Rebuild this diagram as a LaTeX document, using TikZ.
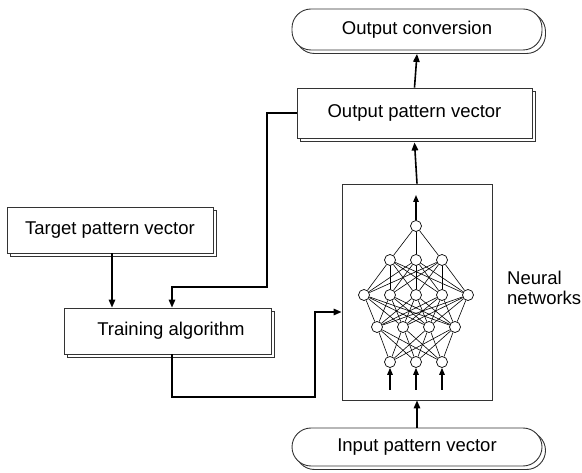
\documentclass[tikz,border=0pt]{standalone}
\usepackage{fontspec}
\setmainfont{Liberation Sans}
\usetikzlibrary{arrows.meta,shadows}
\begin{document}
\begin{tikzpicture}[x=1pt,y=-1pt,
  lbl/.style={font=\fontsize{18.5}{20}\selectfont},
  box/.style={lbl, draw=black!80, line width=0.9pt, fill=white, inner sep=0pt,
    copy shadow={shadow xshift=3.5pt, shadow yshift=-3.5pt}},
  pill/.style={box, rounded corners=19pt},
  frame/.style={draw=black!80, line width=0.9pt, inner sep=0pt},
  conn/.style={line width=1.6pt, -{Triangle[length=8pt,width=6.5pt]}},
  smallconn/.style={line width=1.4pt, -{Triangle[length=7pt,width=5.5pt]}},
  neuron/.style={circle, draw, line width=0.7pt, fill=white, minimum size=11pt, inner sep=0pt},
  syn/.style={line width=0.6pt},
  sidelabel/.style={lbl, anchor=base west, inner sep=0pt}]
\useasboundingbox (0,0) rectangle (582,473);

% main boxes
\node[pill, minimum width=250pt, minimum height=41pt] (oc) at (417,29.5) {Output conversion};
\node[box, minimum width=235pt, minimum height=50pt] (opv) at (414.5,113) {Output pattern vector};
\node[box, minimum width=206pt, minimum height=46pt] (tp) at (110,230) {Target pattern vector};
\node[box, minimum width=207pt, minimum height=46pt] (ta) at (167.5,331) {\hspace*{7pt}Training algorithm};
\node[pill, minimum width=250pt, minimum height=38pt] (ipv) at (417,447) {Input pattern vector};
\node[frame, minimum width=150pt, minimum height=216pt] (nn) at (417,292) {};

\node[sidelabel] (nl1) at (507,285) {Neural};
\node[sidelabel] (nl2) at (507,305) {networks};

% network
\node[neuron] (n1) at (416,226) {};
\foreach \i/\x in {1/390,2/416,3/442} \node[neuron] (n2\i) at (\x,260) {};
\foreach \i/\x in {1/364,2/390,3/416,4/442,5/468} \node[neuron] (n3\i) at (\x,295) {};
\foreach \i/\x in {1/377,2/403,3/429,4/455} \node[neuron] (n4\i) at (\x,327) {};
\foreach \i/\x in {1/390,2/416,3/442} \node[neuron] (n5\i) at (\x,362) {};

\foreach \a in {1,2,3} \draw[syn] (n1) -- (n2\a);
\foreach \a in {1,2,3} \foreach \b in {1,...,5} \draw[syn] (n2\a) -- (n3\b);
\foreach \a in {1,...,5} \foreach \b in {1,...,4} \draw[syn] (n3\a) -- (n4\b);
\foreach \a in {1,...,4} \foreach \b in {1,2,3} \draw[syn] (n4\a) -- (n5\b);

\coordinate (outtip) at (416,195);
\draw[smallconn] (n1.north) -- (outtip);
\foreach \i/\x in {1/390,2/416,3/442} {
  \coordinate (in\i) at (\x,390);
  \draw[smallconn] (in\i) -- (n5\i.south);
}

% connectors
\draw[conn] (opv.west) -- (267,113) -- (267,287) -| ([xshift=4.5pt]ta.north);
\draw[conn] ([xshift=2pt]tp.south) -- ([xshift=2pt]tp.south |- ta.north);
\draw[conn] ([xshift=4.5pt]ta.south) -- (172,397) -| (315,312) -- ([yshift=-20pt]nn.west);
\draw[conn] (nn.north) -- ([yshift=-4pt]opv.south);
\draw[conn] (opv.north) -- ([yshift=-3.5pt]oc.south);
\draw[conn] (ipv.north) -- (nn.south);
\end{tikzpicture}
\end{document}
